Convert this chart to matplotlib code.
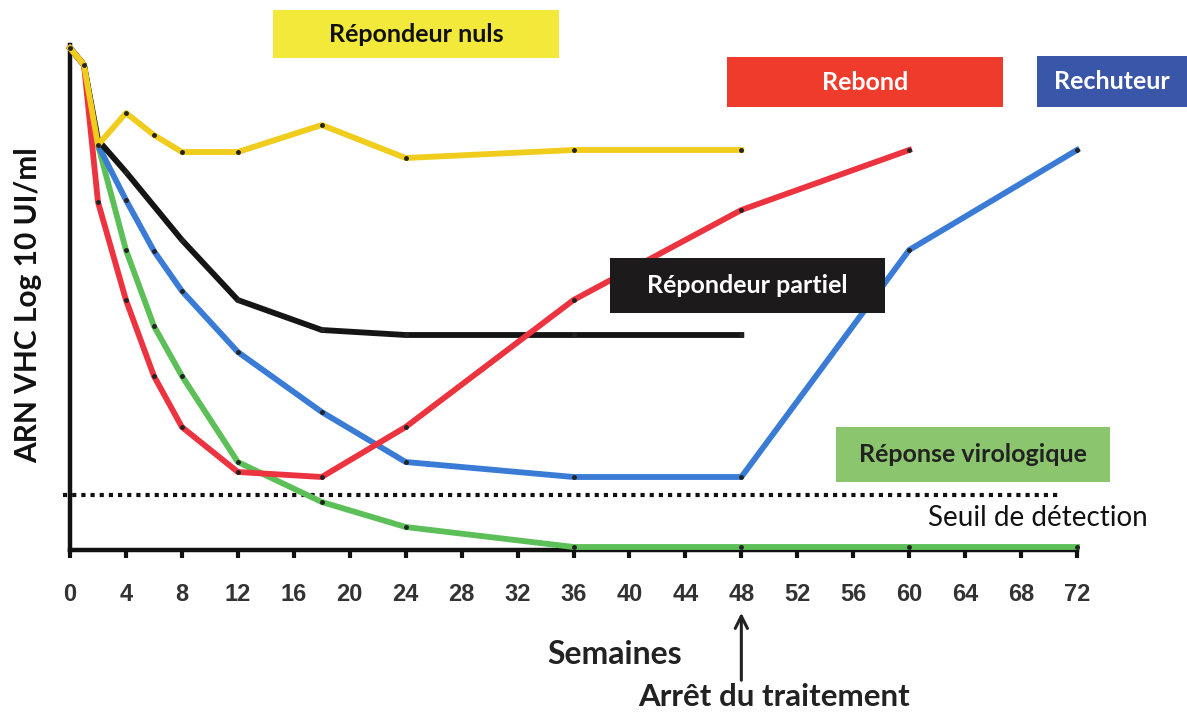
import matplotlib
matplotlib.use("Agg")
import matplotlib.pyplot as plt
from matplotlib.patches import Rectangle

W, H = 1187, 713

# weeks and viral load (arbitrary log units, 0 = bottom of axis)
weeks_nul = [0, 1, 2, 4, 6, 8, 12, 18, 24, 36, 48]
load_nul = [10.04, 9.7, 8.1, 8.74, 8.3, 7.96, 7.96, 8.5, 7.84, 8.0, 8.0]

weeks_partiel = [0, 1, 2, 4, 8, 12, 18, 24, 36, 48]
load_partiel = [10.04, 9.7, 8.2, 7.56, 6.2, 5.0, 4.4, 4.3, 4.3, 4.3]

weeks_rechut = [0, 1, 2, 4, 6, 8, 12, 18, 24, 36, 48, 60, 72]
load_rechut = [10.04, 9.7, 8.1, 7.0, 5.98, 5.18, 3.96, 2.76, 1.76, 1.46, 1.46, 6.0, 8.0]

weeks_rebond = [0, 1, 2, 4, 6, 8, 12, 18, 24, 36, 48, 60]
load_rebond = [10.04, 9.7, 6.96, 5.0, 3.48, 2.46, 1.56, 1.46, 2.46, 5.0, 6.8, 8.0]

weeks_rvs = [0, 1, 2, 4, 6, 8, 12, 18, 24, 36, 48, 60, 72]
load_rvs = [10.04, 9.7, 8.1, 6.0, 4.48, 3.48, 1.76, 0.96, 0.46, 0.06, 0.06, 0.06, 0.06]

seuil = 1.1
xticks = list(range(0, 73, 4))
arret_semaine = 48


def fx(x):
    return x / W


def fy(y):
    return 1 - y / H


def box(fig, x0, y0, x1, y1, color, text, tcolor, size=18):
    fig.add_artist(Rectangle((fx(x0), fy(y1)), (x1 - x0) / W, (y1 - y0) / H,
                             transform=fig.transFigure, facecolor=color,
                             edgecolor="none", zorder=5))
    fig.text(fx((x0 + x1) / 2), fy((y0 + y1) / 2), text, color=tcolor,
             fontsize=size, fontweight="bold", family="Lato",
             ha="center", va="center", zorder=6)


fig = plt.figure(figsize=(W / 100, H / 100), dpi=100)
ax = fig.add_axes([fx(70), fy(550), (1077 - 70) / W, (550 - 45) / H])
ax.set_xlim(0, 72)
ax.set_ylim(0, 10.1)

mk = dict(marker=".", markersize=5, markerfacecolor="#222", markeredgecolor="#222",
          linewidth=4.2, clip_on=False, solid_joinstyle="round")
ax.plot(weeks_rvs, load_rvs, color="#5cbf58", zorder=3, **mk)
ax.plot(weeks_rechut, load_rechut, color="#3a7bd5", zorder=4, **mk)
ax.plot(weeks_partiel, load_partiel, color="#151515", zorder=5, **mk)
ax.plot(weeks_rebond, load_rebond, color="#ec3340", zorder=6, **mk)
ax.plot(weeks_nul, load_nul, color="#f0cd1c", zorder=7, **mk)

ax.plot([-0.5, 70.9], [seuil, seuil], color="#111", linewidth=3,
        linestyle=(0, (1, 1.2)), dash_capstyle="butt", clip_on=False, zorder=2)

for s in ["top", "right"]:
    ax.spines[s].set_visible(False)
for s in ["left", "bottom"]:
    ax.spines[s].set_linewidth(3.2)
    ax.spines[s].set_color("#111")
    ax.spines[s].set_zorder(2.5)
ax.set_yticks([])
ax.set_xticks(xticks)
ax.set_xticklabels([str(t) for t in xticks], fontsize=17, fontweight="bold",
                   family="Liberation Sans", color="#333")
ax.tick_params(axis="x", direction="out", length=6, width=3, color="#111", pad=18)

fig.text(fx(28), fy(305), "ARN VHC Log 10 UI/ml", rotation=90, fontsize=21.5,
         fontweight="bold", family="Lato", ha="center", va="center", color="#111")

box(fig, 273, 10, 559, 58, "#f3e93a", "Répondeur nuls", "#111")
box(fig, 727, 57, 1003, 107, "#ee3b2b", "Rebond", "white")
box(fig, 1037, 56, 1187, 107, "#3a56a8", "Rechuteur", "white")
box(fig, 610, 258, 885, 313, "#1c1a1a", "Répondeur partiel", "white")
box(fig, 836, 427, 1110, 482, "#8bc56d", "Réponse virologique", "#222")

fig.text(fx(1038), fy(518), "Seuil de détection", fontsize=20, family="Lato",
         ha="center", va="center", color="#111")
fig.text(fx(615), fy(655), "Semaines", fontsize=23, fontweight="bold",
         family="Lato", ha="center", va="center", color="#222")
fig.text(fx(774), fy(697), "Arrêt du traitement", fontsize=22.5, fontweight="bold",
         family="Lato", ha="center", va="center", color="#222")

ax.annotate("", xy=(arret_semaine, fy(610)), xytext=(arret_semaine, fy(683)),
            xycoords=("data", "figure fraction"), textcoords=("data", "figure fraction"),
            arrowprops=dict(arrowstyle="->", color="#222", lw=2.2, mutation_scale=22))

fig.savefig("out.png", dpi=100)
